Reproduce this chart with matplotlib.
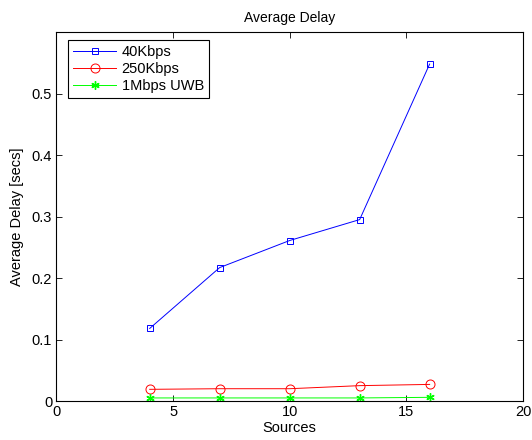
import matplotlib
matplotlib.use("Agg")
import matplotlib.pyplot as plt

# Datos
sources = [4, 7, 10, 13, 16]
delay_40k = [0.118, 0.217, 0.261, 0.295, 0.548]
delay_250k = [0.019, 0.020, 0.020, 0.025, 0.027]
delay_uwb = [0.005, 0.005, 0.005, 0.005, 0.006]

plt.rcParams['font.family'] = ['Liberation Sans', 'DejaVu Sans']
plt.rcParams['font.size'] = 10.5

fig = plt.figure(figsize=(5.32, 4.40), dpi=100)
ax = fig.add_axes([0.106, 0.0886, 0.877, 0.8386])

ax.plot(sources, delay_40k, color='blue', marker='s', markersize=5,
        markerfacecolor='none', markeredgewidth=0.7, linewidth=0.7, label='40Kbps')
ax.plot(sources, delay_250k, color='red', marker='o', markersize=6.5,
        markerfacecolor='none', markeredgewidth=0.7, linewidth=0.7, label='250Kbps')
ax.plot(sources, delay_uwb, color='lime', marker=(6, 2, 0), markersize=6,
        markeredgewidth=1.0, linewidth=0.7, label='1Mbps UWB')

ax.set_xlim(0, 20)
ax.set_ylim(0, 0.6)
ax.set_xticks([0, 5, 10, 15, 20])
ax.set_yticks([0, 0.1, 0.2, 0.3, 0.4, 0.5])
ax.set_yticklabels(['0', '0.1', '0.2', '0.3', '0.4', '0.5'])
ax.tick_params(direction='in', top=True, right=True, length=4, width=0.6, pad=3)
for s in ax.spines.values():
    s.set_linewidth(0.8)

ax.set_xlabel('Sources', labelpad=1)
ax.set_ylabel('Average Delay [secs]', labelpad=6)
ax.set_title('Average Delay', pad=7, fontsize=10)

leg = ax.legend(loc='upper left', bbox_to_anchor=(0.024, 0.978),
                fancybox=False, edgecolor='black', framealpha=1,
                borderaxespad=0, handlelength=3.0, handletextpad=0.35,
                labelspacing=0.2, borderpad=0.35)
leg.get_frame().set_linewidth(0.8)

fig.savefig('out.png', dpi=100)
